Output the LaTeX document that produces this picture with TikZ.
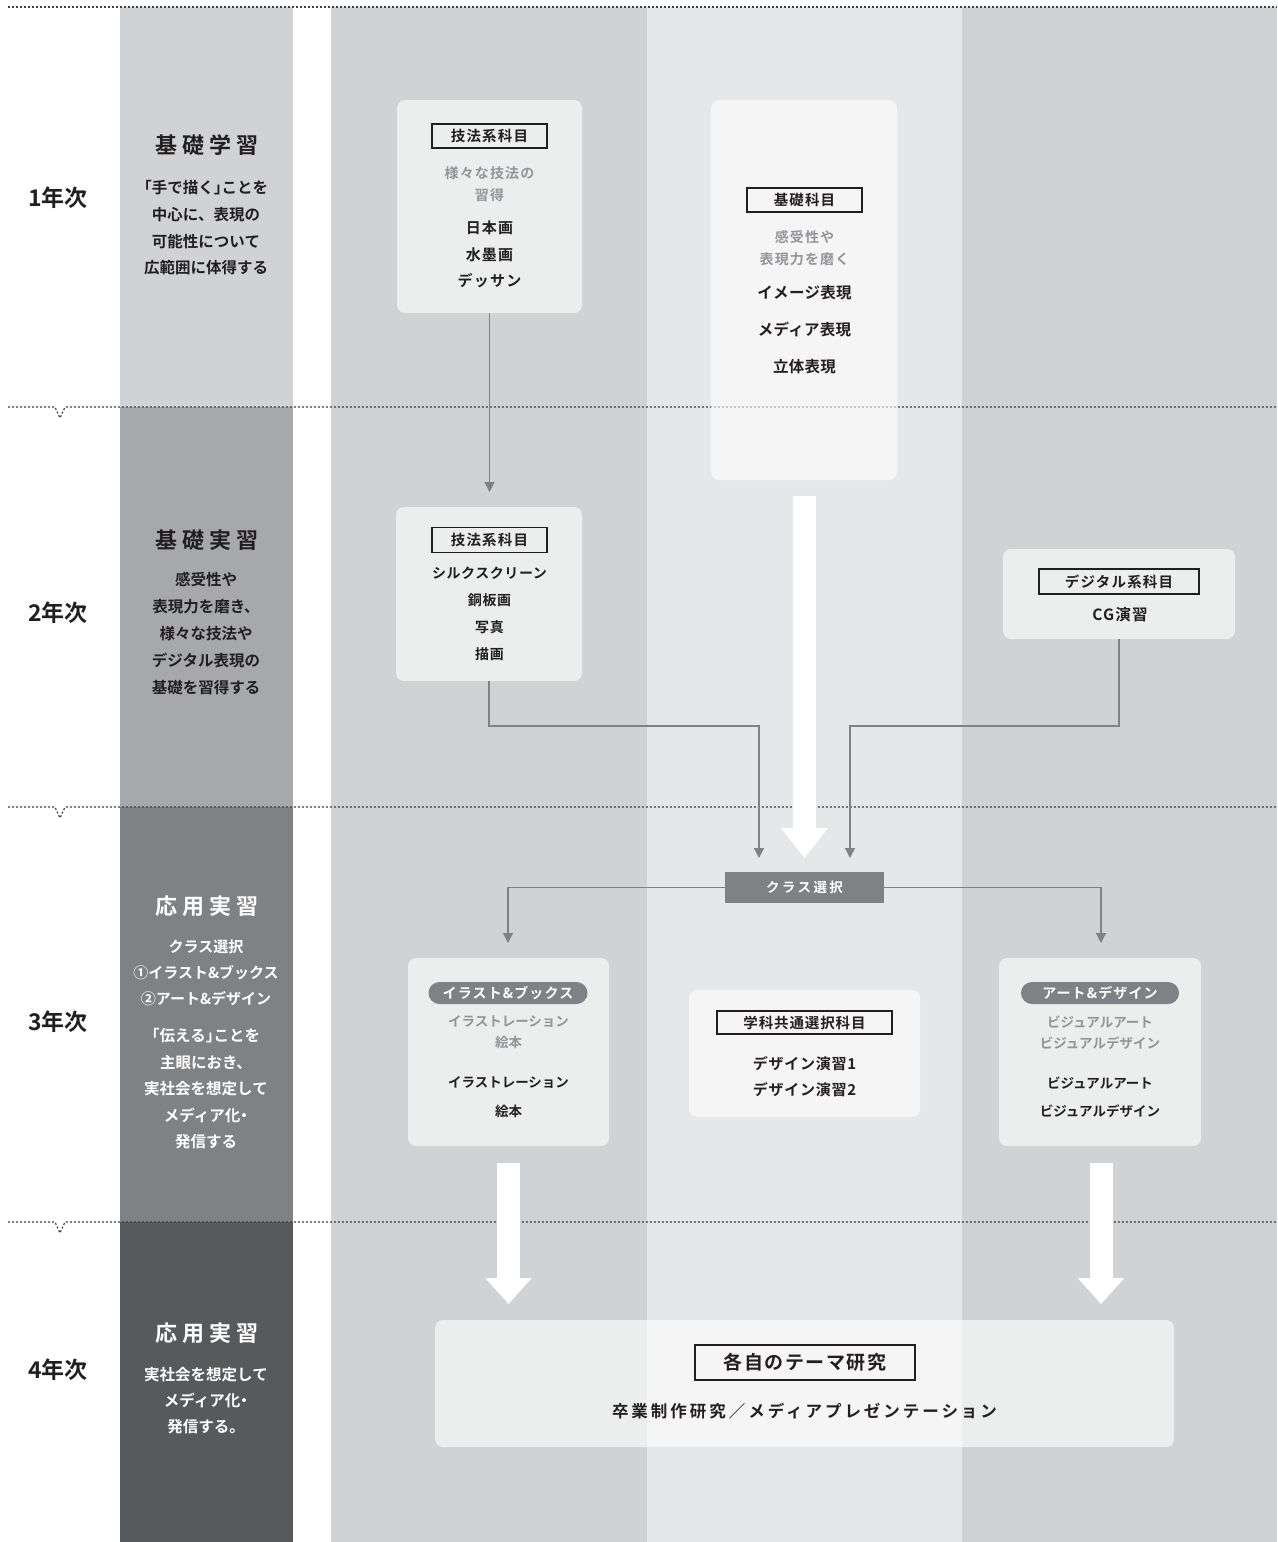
\documentclass[tikz,border=0pt]{standalone}
\usepackage{fontspec}
\setmainfont{Noto Sans CJK JP}[BoldFont={Noto Sans CJK JP Bold}]
\usetikzlibrary{arrows.meta}
\definecolor{colG}{HTML}{D1D2D4}
\definecolor{colL}{HTML}{E6E7E8}
\definecolor{yrB}{HTML}{A7A8AB}
\definecolor{yrC}{HTML}{808184}
\definecolor{yrD}{HTML}{58595B}
\definecolor{ink}{HTML}{231F20}
\definecolor{soft}{HTML}{939598}
\definecolor{connc}{HTML}{808184}
\definecolor{dotc}{HTML}{414042}
\newcommand\fnt[3]{\bfseries\fontsize{#1}{#2}\selectfont\addfontfeature{LetterSpace=#3}}
\newcommand\hb[1]{{\addfontfeature{RawFeature=+halt}#1}}
\begin{document}
\begin{tikzpicture}[x=1pt,y=-1pt,
  txt/.style={inner sep=0pt, align=center, text=ink},
  wtxt/.style={inner sep=0pt, align=center, text=white},
  card/.style={fill=white, fill opacity=0.6, rounded corners=8pt, inner sep=0pt, outer sep=0pt},
  lbl/.style={draw=ink, line width=1.5pt, inner sep=0pt, outer sep=0pt, text=ink},
  pill/.style={fill=yrC, rounded corners=11pt, inner sep=0pt, minimum height=22pt, text=white},
  conn/.style={draw=connc, line width=1.2pt, -{Triangle[width=10pt,length=10pt]}},
  fat/.style={draw=white, line width=23pt},
  dotline/.style={draw=dotc, line width=1.2pt, dash pattern=on 2pt off 2pt}]
\useasboundingbox (0,0) rectangle (1277,1542);
\fill[white] (0,0) rectangle (1277,1542);
% backgrounds
\fill[colG] (120,7) rectangle (293,407);
\fill[yrB] (120,407) rectangle (293,807);
\fill[yrC] (120,807) rectangle (293,1222);
\fill[yrD] (120,1222) rectangle (293,1542);
\fill[colG] (331,7) rectangle (647,1542);
\fill[colL] (647,7) rectangle (962,1542);
\fill[colG] (962,7) rectangle (1277,1542);
% dotted separators
\draw[dotline] (8,7) -- (1277,7);
\foreach \yy in {407,807,1222}
  \draw[dotline] (8,\yy) -- (55,\yy) -- (60,\yy+11) -- (65,\yy) -- (1277,\yy);
% year labels
\node[txt, font=\fnt{23}{23}{0}] (yr1) at (58,198) {1年次};
\node[txt, font=\fnt{23}{23}{0}] (yr2) at (58,613) {2年次};
\node[txt, font=\fnt{23}{23}{0}] (yr3) at (58,1022) {3年次};
\node[txt, font=\fnt{23}{23}{0}] (yr4) at (58,1370) {4年次};
% stripe texts
\node[txt, font=\fnt{22}{22}{22}] (t1) at (207,145) {基礎学習};
\node[txt, font=\fnt{15.5}{26.7}{0}] (d1) at (206,228) {\hb{「}手で描く\hb{」}ことを\\中心に、表現の\\可能性について\\広範囲に体得する};
\node[txt, font=\fnt{22}{22}{22}] (t2) at (207,540) {基礎実習};
\node[txt, font=\fnt{15.5}{27}{0}] (d2) at (206,634) {感受性や\\表現力を磨き、\\様々な技法や\\デジタル表現の\\基礎を習得する};
\node[wtxt, font=\fnt{22}{22}{22}] (t3) at (207,906) {応用実習};
\node[wtxt, font=\fnt{15}{26}{0}] (d3a) at (206,973) {クラス選択\\①イラスト\&ブックス\\②アート\&デザイン};
\node[wtxt, font=\fnt{15.5}{26.5}{0}] (d3b) at (206,1089) {\hb{「}伝える\hb{」}ことを\\主眼におき、\\実社会を想定して\\メディア化\hb{・}\\発信する};
\node[wtxt, font=\fnt{22}{22}{22}] (t4) at (207,1333) {応用実習};
\node[wtxt, font=\fnt{15.5}{26}{0}] (d4) at (206,1401) {実社会を想定して\\メディア化\hb{・}\\発信する。};
% cards
\node[card, minimum width=185pt, minimum height=213pt] (boxA) at (489.5,206.5) {};
\node[card, minimum width=186pt, minimum height=380pt] (boxB) at (804,290) {};
\node[card, minimum width=186pt, minimum height=174pt] (boxC) at (489,594) {};
\node[card, minimum width=232pt, minimum height=90pt] (boxD) at (1119,594) {};
\node[card, minimum width=201pt, minimum height=188pt] (boxE) at (508.5,1052) {};
\node[card, minimum width=231pt, minimum height=127pt] (boxF) at (804.5,1053.5) {};
\node[card, minimum width=202pt, minimum height=188pt] (boxG) at (1100,1052) {};
\node[card, minimum width=739pt, minimum height=127pt] (boxH) at (804.5,1383.5) {};
% box A
\node[lbl, minimum width=115pt, minimum height=24pt, font=\fnt{14.5}{14.5}{8}] (lA) at (489.5,136) {技法系科目};
\node[txt, text=soft, font=\fnt{14}{22}{8}] (sA) at (489.5,184) {様々な技法の\\習得};
\node[txt, font=\fnt{15}{26.5}{8}] (iA) at (489.5,254.5) {日本画\\水墨画\\デッサン};
% box B
\node[lbl, minimum width=115pt, minimum height=24pt, font=\fnt{14.5}{14.5}{8}] (lB) at (804.5,200) {基礎科目};
\node[txt, text=soft, font=\fnt{14}{22}{8}] (sB) at (804.5,248) {感受性や\\表現力を磨く};
\node[txt, font=\fnt{15.5}{37}{2}] (iB) at (804.5,330) {イメージ表現\\メディア表現\\立体表現};
% box C
\node[lbl, minimum width=115pt, minimum height=25pt, font=\fnt{14.5}{14.5}{8}] (lC) at (489.5,540) {技法系科目};
\node[txt, font=\fnt{14}{27}{4}] (iC) at (489.5,613.5) {シルクスクリーン\\銅板画\\写真\\描画};
% box D
\node[lbl, minimum width=160pt, minimum height=25pt, font=\fnt{14.5}{14.5}{8}] (lD) at (1119,581.5) {デジタル系科目};
\node[txt, font=\fnt{15.5}{15.5}{8}] (iD) at (1120,615) {CG演習};
% class select
\node[fill=yrC, minimum width=159pt, minimum height=31pt, inner sep=0pt, outer sep=0pt, text=white, font=\fnt{13.5}{13.5}{18}] (cls) at (804.5,887.5) {クラス選択};
% box E
\node[pill, minimum width=159pt, font=\fnt{14}{14}{8}] (pE) at (508,993) {イラスト\&ブックス};
\node[txt, text=soft, font=\fnt{13.5}{21}{0}] (sE) at (508.5,1032.5) {イラストレーション\\絵本};
\node[txt, font=\fnt{13.5}{29}{0}] (iE) at (508.5,1097.5) {イラストレーション\\絵本};
% box F
\node[lbl, minimum width=175pt, minimum height=23pt, font=\fnt{14.5}{14.5}{6}] (lF) at (804.5,1022.5) {学科共通選択科目};
\node[txt, font=\fnt{15}{26}{5}] (iF) at (804.5,1077) {デザイン演習1\\デザイン演習2};
% box G
\node[pill, minimum width=158pt, font=\fnt{14}{14}{8}] (pG) at (1100,993) {アート\&デザイン};
\node[txt, text=soft, font=\fnt{13.5}{21}{0}] (sG) at (1100,1032.5) {ビジュアルアート\\ビジュアルデザイン};
\node[txt, font=\fnt{13.5}{28}{0}] (iG) at (1100,1097) {ビジュアルアート\\ビジュアルデザイン};
% box H
\node[lbl, minimum width=220pt, minimum height=35pt, font=\fnt{19}{19}{8}] (lH) at (805,1362.5) {各自のテーマ研究};
\node[txt, font=\fnt{16.5}{16.5}{18}] (iH) at (804.5,1411) {卒業制作研究／メディアプレゼンテーション};
% connectors
\coordinate (aEnd) at (489.5,492);
\coordinate (cL) at (759,858);
\coordinate (cR) at (850,858);
\coordinate (eTop) at (508,943);
\coordinate (gTop) at (1101,943);
\draw[conn] (boxA.south) -- (aEnd);
\draw[conn] (boxC.south) -- ++(0,45) -| (cL);
\draw[conn] (boxD.south) -- ++(0,87) -| (cR);
\draw[conn] (cls.west) -| (eTop);
\draw[conn] (cls.east) -| (gTop);
% fat white arrows
\coordinate (fB1) at (804.5,496);
\coordinate (fB2) at (804.5,858);
\coordinate (fE1) at (508.5,1163);
\coordinate (fE2) at (508.5,1304);
\coordinate (fG1) at (1101,1163);
\coordinate (fG2) at (1101,1304);
\draw[fat, -{Triangle[width=45pt,length=30pt]}] (fB1) -- (fB2);
\draw[fat, -{Triangle[width=45pt,length=26pt]}] (fE1) -- (fE2);
\draw[fat, -{Triangle[width=45pt,length=26pt]}] (fG1) -- (fG2);
\end{tikzpicture}
\end{document}
